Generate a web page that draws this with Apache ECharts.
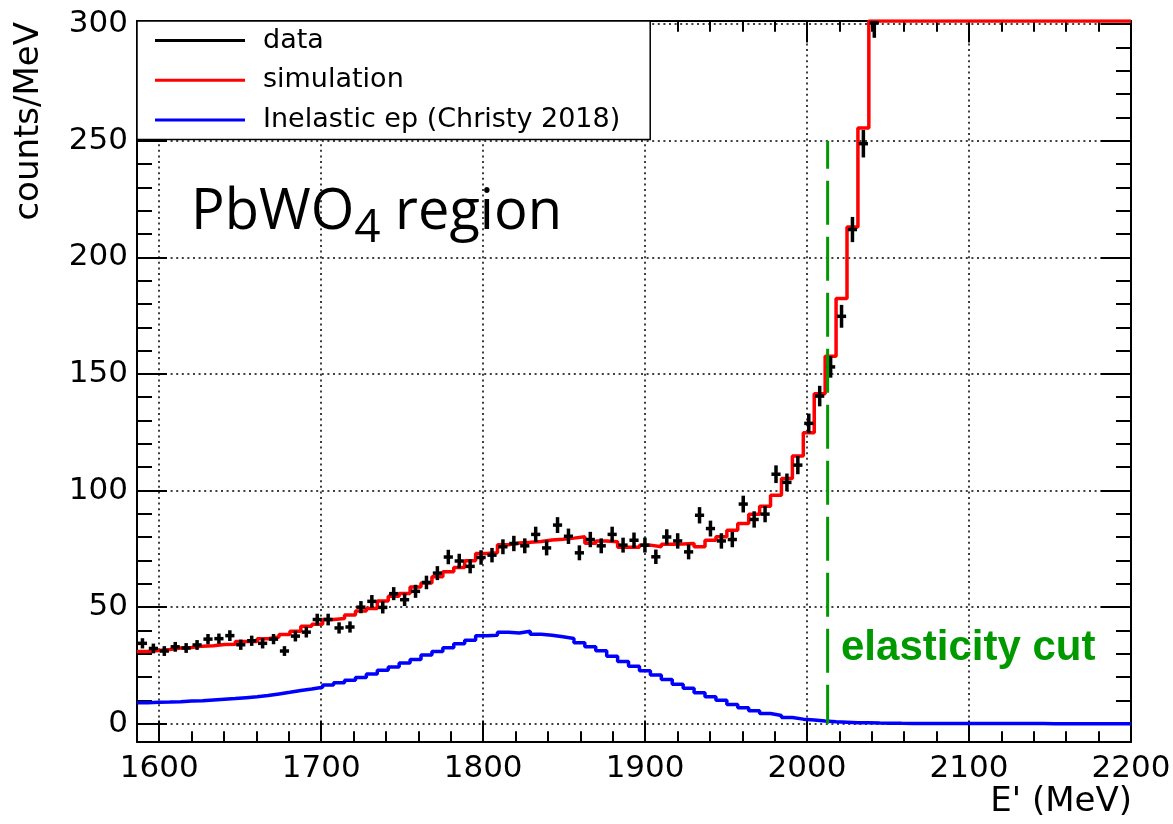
<!DOCTYPE html>
<html>
<head>
<meta charset="utf-8">
<title>E' spectrum, PbWO4 region</title>
<script src="https://cdn.jsdelivr.net/npm/echarts@6/dist/echarts.min.js"></script>
<style>
  html, body { margin: 0; padding: 0; background: #fff; }
  #chart { width: 1173px; height: 824px; }
</style>
</head>
<body>
<div id="chart"></div>
<script>
// ---- Histogram binning (E' in MeV) ----
const X_MIN = 1586.3;
const X_MAX = 2200;
const N_BINS = 91;
const Y_MIN = -7.8;
const Y_MAX = 301.3;

// Measured counts/MeV per bin (bins past the last entry are above the plotted range)
const dataCounts = [
  34.5, 32.3, 31.2, 33.0, 32.5, 33.8, 36.3, 36.5, 37.8, 33.9,
  35.6, 34.5, 36.3, 31.2, 37.6, 39.3, 44.7, 44.7, 41.1, 41.5,
  50.0, 52.5, 49.9, 55.8, 53.2, 56.8, 60.6, 64.6, 71.5, 69.8,
  67.5, 71.3, 72.3, 75.9, 77.3, 76.3, 81.2, 75.4, 85.2, 80.4,
  73.3, 79.0, 76.3, 81.2, 76.6, 78.7, 76.6, 71.6, 80.1, 78.4,
  73.7, 89.4, 83.7, 78.4, 79.0, 94.2, 87.6, 89.9, 107.0, 103.5,
  110.9, 128.8, 140.5, 153.0, 174.7, 211.9, 248.7, 300.5
];
const dataErrors = [
  2.2, 2.1, 2.1, 2.1, 2.1, 2.1, 2.2, 2.2, 2.3, 2.2,
  2.2, 2.2, 2.2, 2.1, 2.3, 2.3, 2.5, 2.5, 2.4, 2.4,
  2.6, 2.7, 2.6, 2.8, 2.7, 2.8, 2.9, 3.0, 3.1, 3.1,
  3.0, 3.1, 3.1, 3.2, 3.3, 3.2, 3.3, 3.2, 3.4, 3.3,
  3.2, 3.3, 3.2, 3.3, 3.2, 3.3, 3.2, 3.1, 3.3, 3.3,
  3.2, 3.5, 3.4, 3.3, 3.3, 3.6, 3.5, 3.5, 3.8, 3.8,
  3.9, 4.2, 4.4, 4.6, 4.9, 5.4, 5.9, 6.4
];

// Simulated counts/MeV; bins after the last entry are off scale (elastic peak)
const simCounts = [
  31.0, 31.4, 31.9, 32.5, 32.7, 33.3, 33.5, 34.0, 34.1, 35.3,
  35.3, 36.5, 37.2, 38.3, 39.7, 41.8, 42.7, 44.7, 45.1, 46.6,
  48.4, 49.4, 52.7, 54.7, 55.9, 58.7, 60.4, 63.0, 65.2, 67.0,
  69.9, 73.0, 73.3, 76.8, 77.5, 77.8, 78.2, 78.8, 79.1, 79.6,
  80.2, 77.4, 78.4, 78.0, 75.7, 75.7, 76.6, 75.9, 77.0, 77.1,
  77.3, 75.9, 78.7, 80.2, 83.0, 85.9, 89.8, 93.3, 98.0, 105.2,
  114.8, 124.8, 141.5, 157.6, 182.3, 213.0, 255.4
];

// Inelastic ep model (Christy 2018), counts/MeV per bin
const inelasticCounts = [
  9.0, 9.2, 9.3, 9.5, 9.8, 9.9, 10.2, 10.5, 10.8, 11.2,
  11.6, 12.1, 12.8, 13.5, 14.3, 14.9, 15.7, 16.6, 17.6, 18.7,
  19.9, 21.3, 23.0, 24.4, 26.1, 27.6, 29.5, 31.0, 32.6, 34.3,
  35.8, 37.8, 38.0, 39.2, 38.9, 39.7, 38.4, 38.0, 37.3, 36.6,
  34.7, 33.0, 31.3, 29.0, 26.7, 24.7, 22.7, 20.9, 19.0, 17.0,
  15.2, 13.3, 11.6, 10.1, 8.3, 6.9, 5.6, 4.4, 3.6, 2.7,
  2.0, 1.6, 1.2, 0.9, 0.7, 0.5, 0.4, 0.3, 0.25, 0.2,
  0.18, 0.16, 0.15, 0.14, 0.13, 0.12, 0.11, 0.10, 0.10, 0.09,
  0.09, 0.08, 0.08, 0.07, 0.07, 0.07, 0.06, 0.06, 0.06, 0.05, 0.05
];

// Elasticity cut position and the height its marker line reaches
const CUT_ENERGY = 2012.7;
const CUT_LINE_TOP = 250;

const SERIES_NAMES = ['data', 'simulation', 'Inelastic ep (Christy 2018)'];

// ---- Helpers ----
const BIN_WIDTH = (X_MAX - X_MIN) / N_BINS;
const binLow = i => X_MIN + i * BIN_WIDTH;
const binCenter = i => X_MIN + (i + 0.5) * BIN_WIDTH;

// Step outline of a histogram: a flat segment across every bin.
// Values beyond the listed bins are drawn on the frame top (off-scale overflow).
function stepPoints(values, nBins) {
  const pts = [];
  for (let i = 0; i < nBins; i++) {
    const v = i < values.length ? Math.min(values[i], Y_MAX) : Y_MAX;
    pts.push([binLow(i), v], [binLow(i + 1), v]);
  }
  return pts;
}

const dataPoints = dataCounts.map((v, i) => [binCenter(i), v, dataErrors[i]]);
const CROSS_HALF_WIDTH = 0.42 * BIN_WIDTH;

const ROOT_FONT = "'DejaVu Sans', sans-serif";
const BLACK = '#000000';
const plainNumber = v => String(Math.round(v));

function frameAxis(extra) {
  return Object.assign({
    type: 'value',
    axisLine: { show: true, onZero: false, lineStyle: { color: BLACK, width: 2 } },
    splitLine: { show: false },
    axisLabel: { show: false }
  }, extra);
}

const gridLine = {
  show: true,
  showMinLine: false,
  showMaxLine: false,
  lineStyle: { color: BLACK, width: 1.5, type: [2, 3.6] }
};

const chart = echarts.init(document.getElementById('chart'), null, { renderer: 'canvas' });

chart.setOption({
  animation: false,
  backgroundColor: '#ffffff',
  grid: { left: 137, right: 42, top: 21, bottom: 82, containLabel: false, outerBoundsMode: 'none' },
  xAxis: [
    frameAxis({
      position: 'bottom', min: X_MIN, max: X_MAX,
      axisTick: { show: true, inside: true, length: 21.6, lineStyle: { color: BLACK, width: 2 } },
      minorTick: { show: true, splitNumber: 5, length: 10.8, lineStyle: { color: BLACK, width: 2 } },
      axisLabel: {
        show: true, color: BLACK, fontFamily: ROOT_FONT, fontSize: 31, margin: 11,
        showMinLabel: false, showMaxLabel: true, formatter: plainNumber
      },
      splitLine: gridLine
    }),
    frameAxis({
      position: 'top', min: X_MIN, max: X_MAX,
      axisTick: { show: true, inside: true, length: 21.6, lineStyle: { color: BLACK, width: 2 } },
      minorTick: { show: true, splitNumber: 5, length: 10.8, lineStyle: { color: BLACK, width: 2 } }
    })
  ],
  yAxis: [
    frameAxis({
      position: 'left', min: Y_MIN, max: Y_MAX,
      axisTick: { show: true, inside: true, length: 30, lineStyle: { color: BLACK, width: 2 } },
      minorTick: { show: true, splitNumber: 5, length: 15, lineStyle: { color: BLACK, width: 2 } },
      axisLabel: {
        show: true, color: BLACK, fontFamily: ROOT_FONT, fontSize: 31, margin: 9,
        showMinLabel: false, showMaxLabel: false, formatter: plainNumber
      },
      splitLine: gridLine
    }),
    frameAxis({
      position: 'right', min: Y_MIN, max: Y_MAX,
      axisTick: { show: true, inside: true, length: 30, lineStyle: { color: BLACK, width: 2 } },
      minorTick: { show: true, splitNumber: 5, length: 15, lineStyle: { color: BLACK, width: 2 } }
    })
  ],
  legend: {
    orient: 'vertical',
    left: 137,
    top: 21,
    selectedMode: false,
    data: SERIES_NAMES.map(n => ({ name: n, icon: 'rect' })),
    itemWidth: 90,
    itemHeight: 3,
    itemGap: 12.7,
    padding: [6, 30, 6, 18],
    backgroundColor: '#ffffff',
    borderColor: BLACK,
    borderWidth: 1.5,
    borderRadius: 0,
    textStyle: { color: BLACK, fontFamily: ROOT_FONT, fontSize: 27, lineHeight: 27, padding: [0, 0, 0, 13] }
  },
  series: [
    {
      name: SERIES_NAMES[2],
      type: 'line',
      data: stepPoints(inelasticCounts, N_BINS),
      showSymbol: false,
      symbol: 'none',
      itemStyle: { color: '#0000ff' },
      lineStyle: { color: '#0000ff', width: 3.5 },
      z: 2,
      silent: true
    },
    {
      name: SERIES_NAMES[1],
      type: 'line',
      data: stepPoints(simCounts, N_BINS),
      showSymbol: false,
      symbol: 'none',
      itemStyle: { color: '#ff0000' },
      lineStyle: { color: '#ff0000', width: 3.5 },
      z: 3,
      silent: true
    },
    {
      name: SERIES_NAMES[0],
      type: 'custom',
      data: dataPoints,
      encode: { x: 0, y: 1 },
      clip: true,
      itemStyle: { color: BLACK },
      z: 4,
      silent: true,
      renderItem: function (params, api) {
        const x = api.value(0), y = api.value(1), e = api.value(2);
        const c = api.coord([x, y]);
        const hi = api.coord([x, y + e]);
        const lo = api.coord([x, y - e]);
        const l = api.coord([x - CROSS_HALF_WIDTH, y]);
        const r = api.coord([x + CROSS_HALF_WIDTH, y]);
        const style = { stroke: BLACK, lineWidth: 3.5, fill: null };
        return {
          type: 'group',
          children: [
            { type: 'line', shape: { x1: c[0], y1: hi[1], x2: c[0], y2: lo[1] }, style: style },
            { type: 'line', shape: { x1: l[0], y1: c[1], x2: r[0], y2: c[1] }, style: style }
          ]
        };
      }
    },
    {
      name: 'elasticity cut',
      type: 'line',
      data: [[CUT_ENERGY, CUT_LINE_TOP], [CUT_ENERGY, 0]],
      showSymbol: false,
      symbol: 'none',
      lineStyle: { color: '#009900', width: 3, type: [44, 12], dashOffset: 16 },
      z: 5,
      silent: true
    }
  ],
  graphic: [
    {
      type: 'text',
      x: 29, y: 22,
      rotation: Math.PI / 2,
      style: {
        text: 'counts/MeV', fill: BLACK,
        font: "34px 'DejaVu Sans', sans-serif",
        align: 'right', verticalAlign: 'middle'
      }
    },
    {
      type: 'text',
      x: 1132, y: 802,
      style: {
        text: "E' (MeV)", fill: BLACK,
        font: "34px 'DejaVu Sans', sans-serif",
        align: 'right', verticalAlign: 'middle'
      }
    },
    {
      type: 'text',
      x: 191, y: 213,
      z: 10,
      style: {
        text: '{m|PbWO}{s|4}{m| region}',
        fill: BLACK,
        align: 'left', verticalAlign: 'middle',
        rich: {
          m: { fontFamily: "'Open Sans', sans-serif", fontSize: 56, lineHeight: 70, fill: BLACK },
          s: { fontFamily: "'Open Sans', sans-serif", fontSize: 46, lineHeight: 46, padding: [32, 0, 0, 0], fill: BLACK }
        }
      }
    },
    {
      type: 'text',
      x: 841, y: 648,
      z: 10,
      style: {
        text: 'elasticity cut', fill: '#009900',
        font: "bold 42px 'Liberation Sans', Arial, sans-serif",
        align: 'left', verticalAlign: 'middle'
      }
    }
  ]
});
</script>
</body>
</html>
